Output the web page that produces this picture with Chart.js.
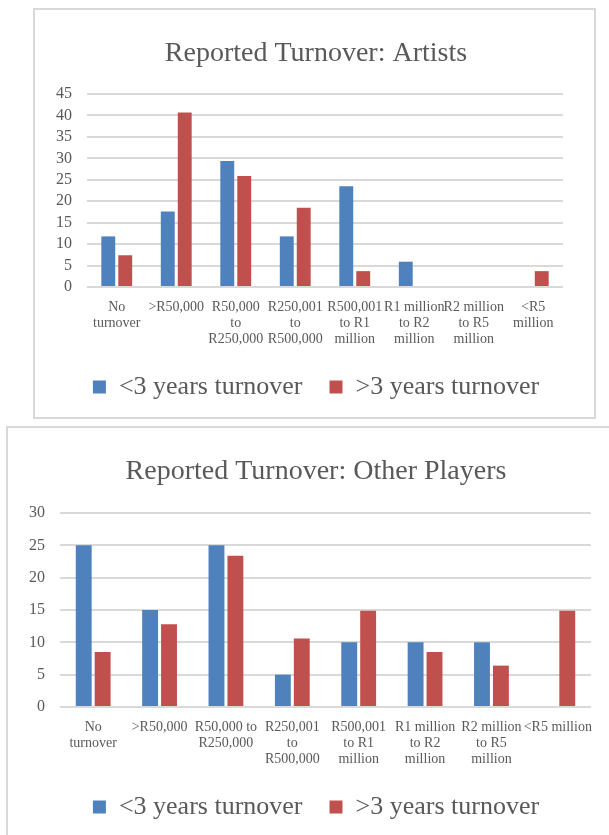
<!DOCTYPE html>
<html><head><meta charset="utf-8">
<script src="https://cdn.jsdelivr.net/npm/chart.js@4/dist/chart.umd.min.js"></script>
<style>
html,body{margin:0;padding:0;background:#fff;width:609px;height:835px;overflow:hidden;position:relative}
.box{position:absolute;border:2px solid #d9d9d9;box-sizing:border-box}
canvas{position:absolute;display:block}
</style></head><body>
<div class="box" style="left:33px;top:8px;width:563px;height:411px"></div>
<div class="box" style="left:6px;top:426px;width:630px;height:430px"></div>
<canvas id="c1" width="547" height="409" style="left:35px;top:9px;width:547px;height:409px"></canvas>
<canvas id="c2" width="600" height="405" style="left:8px;top:430px;width:600px;height:405px"></canvas>
<script>
const seriesNames = ["<3 years turnover", ">3 years turnover"];

const artistCategories = [["No","turnover"],[">R50,000"],["R50,000","to","R250,000"],["R250,001","to","R500,000"],["R500,001","to R1","million"],["R1 million","to R2","million"],["R2 million","to R5","million"],["<R5","million"]];
const artistsUnder3 = [11.8, 17.6, 29.4, 11.8, 23.5, 5.9, 0, 0];
const artistsOver3 = [7.4, 40.7, 25.9, 18.5, 3.7, 0, 0, 3.7];
const artistsYTicks = [0, 5, 10, 15, 20, 25, 30, 35, 40, 45];

const otherCategories = [["No","turnover"],[">R50,000"],["R50,000 to","R250,000"],["R250,001","to","R500,000"],["R500,001","to R1","million"],["R1 million","to R2","million"],["R2 million","to R5","million"],["<R5 million"]];
const otherUnder3 = [25, 15, 25, 5, 10, 10, 10, 0];
const otherOver3 = [8.5, 12.8, 23.4, 10.6, 14.9, 8.5, 6.4, 14.9];
const otherYTicks = [0, 5, 10, 15, 20, 25, 30];

const BLUE = '#4F81BD', RED = '#C0504D', TXT = '#595959', GRID = '#d9d9d9';
const FONT = "'Liberation Serif', 'Times New Roman', serif";

function makeChart(id, title, cats, a, b, yTicks, L) {
  const step = yTicks[1] - yTicks[0];
  return new Chart(document.getElementById(id), {
    type: 'bar',
    data: {
      labels: cats,
      datasets: [
        {label: seriesNames[0], data: a, backgroundColor: BLUE, borderWidth: 0,
         categoryPercentage: L.cat, barPercentage: L.bar},
        {label: seriesNames[1], data: b, backgroundColor: RED, borderWidth: 0,
         categoryPercentage: L.cat, barPercentage: L.bar}
      ]
    },
    options: {
      responsive: false,
      animation: false,
      devicePixelRatio: 1,
      layout: {padding: {left: L.pl, right: 0, top: 0, bottom: L.pb}},
      plugins: {
        tooltip: {enabled: false},
        title: {display: true, text: title, color: TXT,
          font: {family: FONT, size: 28, weight: 'normal', lineHeight: 1.2},
          padding: {top: L.tpt, bottom: L.tpb}},
        legend: {position: 'bottom',
          labels: {color: TXT, boxWidth: 13, boxHeight: 13, padding: 27,
            font: {family: FONT, size: 26}}}
      },
      scales: {
        x: {
          grid: {display: false, drawTicks: false},
          border: {display: false},
          ticks: {color: TXT, padding: 12, maxRotation: 0, autoSkip: false,
            font: {family: FONT, size: 14, lineHeight: '16px'}},
          afterFit: s => { s.height = 60; }
        },
        y: {
          min: yTicks[0], max: yTicks[yTicks.length - 1],
          afterBuildTicks: s => { s.ticks = yTicks.map(v => ({value: v})); },
          grid: {color: GRID, lineWidth: 2, drawTicks: false},
          border: {display: false},
          ticks: {stepSize: step, autoSkip: false, color: TXT, padding: 15,
            font: {family: FONT, size: 16}},
          afterFit: s => { s.width = L.yw; }
        },
        yRight: {
          position: 'right', display: true,
          grid: {display: false, drawTicks: false},
          border: {display: false},
          ticks: {display: false},
          afterFit: s => { s.width = L.rw; }
        }
      }
    }
  });
}

makeChart('c1', 'Reported Turnover: Artists', artistCategories, artistsUnder3, artistsOver3, artistsYTicks,
  {pl: 15, yw: 37, rw: 19, pb: 8, tpt: 28, tpb: 23.4, cat: 0.57, bar: 0.82});
makeChart('c2', 'Reported Turnover: Other Players', otherCategories, otherUnder3, otherOver3, otherYTicks,
  {pl: 16, yw: 36, rw: 17, pb: 5, tpt: 25, tpb: 24.4, cat: 0.57, bar: 0.84});
</script>
</body></html>
